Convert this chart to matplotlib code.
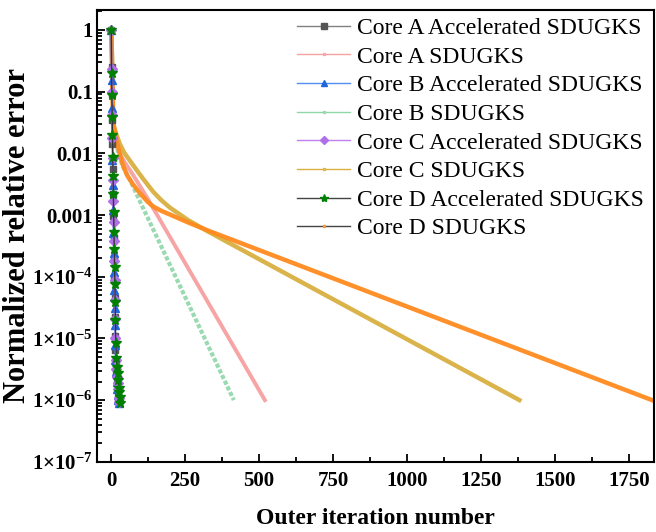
import matplotlib
matplotlib.use('Agg')
import matplotlib.pyplot as plt
from matplotlib.lines import Line2D
from matplotlib.ticker import LogLocator, NullFormatter, MultipleLocator

plt.rcParams['font.family'] = ['Liberation Serif', 'DejaVu Serif']
plt.rcParams['mathtext.fontset'] = 'custom'
plt.rcParams['mathtext.rm'] = 'Liberation Serif:bold'
plt.rcParams['mathtext.bf'] = 'Liberation Serif:bold'

# accelerated runs (one marker per outer iteration)
a_acc_it = [1, 2, 3, 4, 5, 6, 7, 8, 9, 10, 11, 12, 13, 14, 15, 16, 18, 20, 22, 25, 28]
a_acc_err = [1.0, 0.25, 0.09, 0.035, 0.014, 0.0055, 0.0022, 9.5e-4, 4.2e-4, 2.0e-4, 9.5e-5,
             4.5e-5, 2.2e-5, 1.1e-5, 6.5e-6, 4.2e-6, 2.8e-6, 1.9e-6, 1.4e-6, 1.1e-6, 9.0e-7]

b_acc_it = [1, 2, 3, 4, 5, 6, 7, 8, 9, 10, 11, 12, 13, 14, 15, 17, 19, 21, 23, 25, 28]
b_acc_err = [1.0, 0.155, 0.055, 0.020, 0.0078, 0.0031, 0.0012, 5.1e-4, 2.4e-4, 1.2e-4, 6.1e-5,
             3.1e-5, 1.66e-5, 7.8e-6, 4.5e-6, 2.9e-6, 2.0e-6, 1.5e-6, 1.2e-6, 1.0e-6, 8.9e-7]

c_acc_it = [1, 2, 3, 4, 5, 6, 7, 8, 9, 10, 11, 12, 13, 14, 15, 16, 18, 20, 22, 24, 26, 28]
c_acc_err = [1.0, 0.23, 0.10, 0.042, 0.018, 0.0085, 0.0037, 0.0017, 7.8e-4, 3.8e-4, 1.8e-4,
             8.9e-5, 4.2e-5, 2.1e-5, 1.0e-5, 4.5e-6, 3.2e-6, 2.4e-6, 1.9e-6, 1.5e-6, 1.1e-6, 9.3e-7]

d_acc_it = [1, 2, 3, 4, 5, 6, 7, 8, 9, 10, 11, 12, 13, 14, 15, 16, 18, 20, 22, 24, 26, 28, 30, 32]
d_acc_err = [1.0, 0.2, 0.089, 0.039, 0.02, 0.0087, 0.0043, 0.0022, 0.0011, 5.4e-4, 2.8e-4,
             1.45e-4, 7.6e-5, 3.9e-5, 2.0e-5, 8.5e-6, 4.8e-6, 3.5e-6, 2.75e-6, 2.1e-6, 1.6e-6,
             1.35e-6, 1.12e-6, 9.0e-7]

# plain SDUGKS runs
a_it = [1, 3, 5, 8, 12, 18, 25, 35, 47, 60, 80, 122, 520]
a_err = [1.0, 0.42, 0.12, 0.0302, 0.0224, 0.0158, 0.0117, 0.00891, 0.00708, 0.00575,
         0.00407, 0.00191, 1.0e-6]

b_it = [1, 3, 5, 8, 12, 18, 25, 35, 47, 64, 100, 166, 415]
b_err = [1.0, 0.42, 0.12, 0.0302, 0.0209, 0.0141, 0.0100, 0.00708, 0.00525, 0.00372,
         0.00158, 3.4e-4, 1.0e-6]

c_it = [1, 3, 5, 8, 12, 20, 30, 45, 64, 85, 108, 142, 170, 199, 260, 328, 1380]
c_err = [1.0, 0.42, 0.12, 0.0302, 0.0251, 0.0191, 0.0141, 0.0102, 0.00759, 0.00550,
         0.00389, 0.00240, 0.00174, 0.00132, 8.3e-4, 5.4e-4, 1.0e-6]

d_it = [1, 3, 5, 8, 12, 20, 30, 41, 55, 74, 100, 125, 142, 170, 199, 260, 328, 1828]
d_err = [1.0, 0.42, 0.12, 0.0302, 0.0240, 0.0158, 0.00955, 0.00631, 0.00437, 0.00316,
         0.00219, 0.00162, 0.00138, 0.00117, 0.00102, 7.6e-4, 5.6e-4, 1.0e-6]

labels = ['Core A Accelerated SDUGKS', 'Core A SDUGKS',
          'Core B Accelerated SDUGKS', 'Core B SDUGKS',
          'Core C Accelerated SDUGKS', 'Core C SDUGKS',
          'Core D Accelerated SDUGKS', 'Core D SDUGKS']

y_ticks = [1, 0.1, 0.01, 0.001, 1e-4, 1e-5, 1e-6, 1e-7]
y_ticklabels = ['1', '0.1', '0.01', '0.001', r'$\mathbf{1{\times}10^{-4}}$',
                r'$\mathbf{1{\times}10^{-5}}$', r'$\mathbf{1{\times}10^{-6}}$',
                r'$\mathbf{1{\times}10^{-7}}$']

fig = plt.figure(figsize=(6.56, 5.32), dpi=100)
ax = fig.add_axes([0.148, 0.132, 0.849, 0.849])

# slow runs, drawn as thick lines (dense markers in the original)
ax.plot(b_it, b_err, color='#8fd6a9', lw=3, alpha=0.9, ls=(0, (1, 0.5)))
ax.plot(a_it, a_err, color='#f59a9a', lw=2.8, alpha=0.9)
ax.plot(c_it, c_err, color='#d8b040', lw=3.2, alpha=0.95)
ax.plot(d_it, d_err, color='#ff8a1e', lw=3.2, alpha=0.95)

ms = 5
ax.plot(a_acc_it, a_acc_err, color='#808080', marker='s', ms=ms, mfc='#555555', mec='#555555', lw=1)
ax.plot(b_acc_it, b_acc_err, color='#4f8ff0', marker='^', ms=ms + 1, mfc='#2266dd', mec='#2266dd', lw=1)
ax.plot(c_acc_it, c_acc_err, color='#c080f0', marker='D', ms=ms, mfc='#b070e8', mec='#b070e8', lw=1)
ax.plot(d_acc_it, d_acc_err, color='#333333', marker='*', ms=ms + 2, mfc='#008000', mec='#008000', lw=1)

ax.set_yscale('log')
ax.set_xlim(-47, 1835)
ax.set_ylim(1e-7, 2.1)
ax.set_yticks(y_ticks)
ax.set_yticklabels(y_ticklabels)
ax.yaxis.set_minor_locator(LogLocator(base=10, subs=range(2, 10), numticks=20))
ax.yaxis.set_minor_formatter(NullFormatter())
ax.xaxis.set_major_locator(MultipleLocator(250))
ax.xaxis.set_minor_locator(MultipleLocator(125))

ax.tick_params(which='both', direction='in', width=1.3, labelsize=15)
ax.tick_params(which='major', length=6)
ax.tick_params(which='minor', length=3.5)
ax.tick_params(axis='y', which='both', right=False, pad=3)
ax.tick_params(axis='x', which='both', top=False, pad=7)
for lab in ax.get_xticklabels() + ax.get_yticklabels():
    lab.set_fontweight('bold')
for sp in ax.spines.values():
    sp.set_linewidth(1.5)

ax.set_xlabel('Outer iteration number', fontsize=17, fontweight='bold', labelpad=12)
ax.set_ylabel('Normalized relative error', fontsize=22, fontweight='bold', labelpad=0)

handles = [
    Line2D([], [], color='#808080', lw=1, marker='s', ms=4, mfc='#555555', mec='#555555'),
    Line2D([], [], color='#f7a0a0', lw=1, marker='o', ms=1.5, mfc='white', mec='#f7a0a0'),
    Line2D([], [], color='#4f8ff0', lw=1, marker='^', ms=5, mfc='#2266dd', mec='#2266dd'),
    Line2D([], [], color='#8fd6a9', lw=1, marker='o', ms=1.5, mfc='white', mec='#8fd6a9'),
    Line2D([], [], color='#c080f0', lw=1, marker='D', ms=4, mfc='#b070e8', mec='#b070e8'),
    Line2D([], [], color='#d8b040', lw=1, marker='o', ms=1.5, mfc='white', mec='#d8b040'),
    Line2D([], [], color='#444444', lw=1, marker='*', ms=6, mfc='#008000', mec='#008000'),
    Line2D([], [], color='#444444', lw=1, marker='o', ms=1.5, mfc='white', mec='#ff8a1e'),
]
ax.legend(handles, labels, loc='upper right', frameon=False, fontsize=17,
          handlelength=2.25, labelspacing=0.3, handletextpad=0.3,
          bbox_to_anchor=(1.012, 1.02), borderaxespad=0.3)

fig.savefig('out.png', dpi=100)
